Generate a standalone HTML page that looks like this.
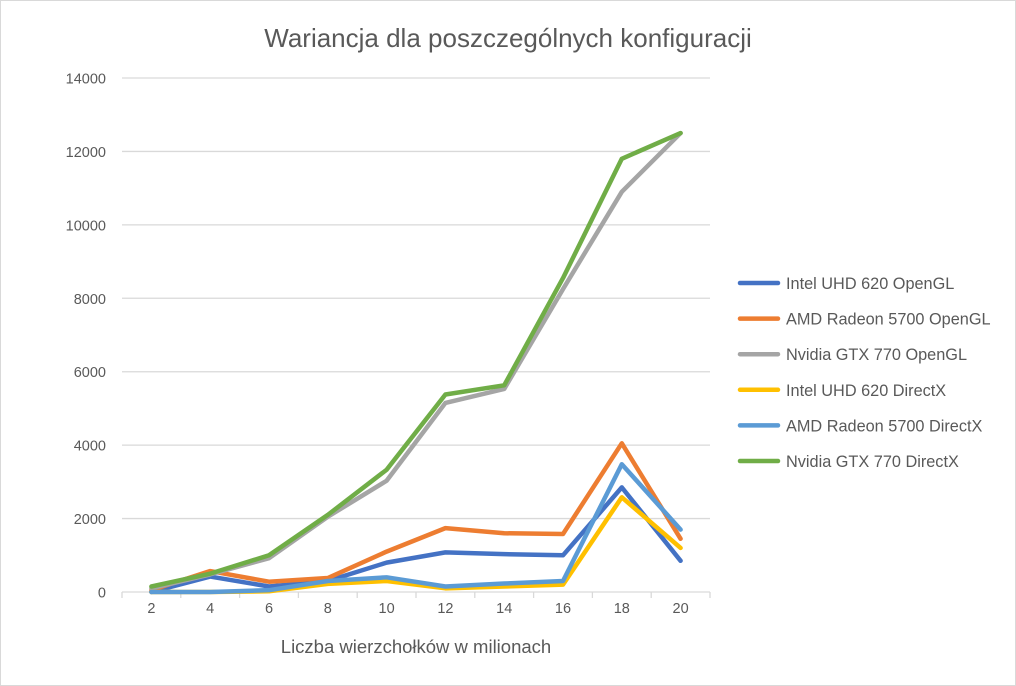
<!DOCTYPE html>
<html><head><meta charset="utf-8"><style>
html,body{margin:0;padding:0;background:#fff}
svg{display:block;font-family:"Liberation Sans",sans-serif}
</style></head><body>
<svg id="chart" width="1016" height="686" viewBox="0 0 1016 686" xmlns="http://www.w3.org/2000/svg">
<rect x="0.5" y="0.5" width="1015" height="685" fill="#fff" stroke="#d9d9d9"/>
<text x="508" y="47" text-anchor="middle" font-size="26" fill="#595959">Wariancja dla poszczególnych  konfiguracji</text>
<g id="grid"></g><g id="axes"></g><g id="series"></g><g id="legend"></g>
<text x="416" y="653" text-anchor="middle" font-size="18.5" fill="#595959">Liczba wierzchołków w milionach</text>
</svg>
<script>
const categories=[2,4,6,8,10,12,14,16,18,20];
const yTicks=[0,2000,4000,6000,8000,10000,12000,14000];
const seriesNames=["Intel UHD 620 OpenGL","AMD Radeon 5700 OpenGL","Nvidia GTX 770 OpenGL","Intel UHD 620 DirectX","AMD Radeon 5700 DirectX","Nvidia GTX 770 DirectX"];
const intelOpenGL=[0,420,150,300,800,1080,1030,1000,2850,850];
const amdOpenGL=[50,570,280,380,1100,1740,1600,1580,4050,1450];
const nvidiaOpenGL=[100,480,920,2050,3030,5150,5530,8250,10900,12500];
const intelDirectX=[0,0,20,220,300,100,150,200,2580,1200];
const amdDirectX=[0,0,50,300,400,150,230,300,3480,1700];
const nvidiaDirectX=[150,500,1000,2100,3330,5380,5630,8550,11800,12500];
const seriesData=[intelOpenGL,amdOpenGL,nvidiaOpenGL,intelDirectX,amdDirectX,nvidiaDirectX];
const colors=["#4472c4","#ed7d31","#a5a5a5","#ffc000","#5b9bd5","#70ad47"];
const NS="http://www.w3.org/2000/svg";
const L=122,R=710,T=78,B=592,yMax=14000;
const bw=(R-L)/categories.length;
const x=i=>L+bw*(i+0.5);
const y=v=>B-(v/yMax)*(B-T);
function mk(tag,attrs,parent){const e=document.createElementNS(NS,tag);for(const k in attrs)e.setAttribute(k,attrs[k]);parent.appendChild(e);return e;}
const grid=document.getElementById('grid'),axes=document.getElementById('axes'),ser=document.getElementById('series'),leg=document.getElementById('legend');
yTicks.forEach(t=>{
 if(t>0){const g=mk('line',{x1:L,x2:R,y1:y(t),y2:y(t),stroke:'#d9d9d9','stroke-width':1.3},grid);
 
 }
 const lb=mk('text',{x:106,y:y(t)+5.5,'text-anchor':'end','font-size':14.5,fill:'#595959'},axes);lb.textContent=t;
 
 
});
const ax=mk('line',{x1:L,x2:R,y1:B,y2:B,stroke:'#d9d9d9','stroke-width':1.3},axes);


for(let i=0;i<=categories.length;i++){const tk=mk('line',{x1:L+bw*i,x2:L+bw*i,y1:B,y2:B+6,stroke:'#d9d9d9','stroke-width':1.3},axes);
 
 }
categories.forEach((c,i)=>{const lb=mk('text',{x:x(i),y:B+21,'text-anchor':'middle','font-size':14.5,fill:'#595959'},axes);lb.textContent=c;
 
 });
seriesData.forEach((d,s)=>{
 const p=mk('polyline',{points:d.map((v,i)=>x(i)+','+y(v)).join(' '),fill:'none',stroke:colors[s],'stroke-width':4.5,'stroke-linejoin':'round','stroke-linecap':'round'},ser);
 
 
 const ly=283+s*35.6;
 const g=mk('g',{},leg);
 
 
 mk('line',{x1:740,x2:778,y1:ly,y2:ly,stroke:colors[s],'stroke-width':4.5,'stroke-linecap':'round'},g);
 const t=mk('text',{x:786,y:ly+6,'font-size':16.3,fill:'#595959'},g);t.textContent=seriesNames[s];
});
</script>
</body></html>
